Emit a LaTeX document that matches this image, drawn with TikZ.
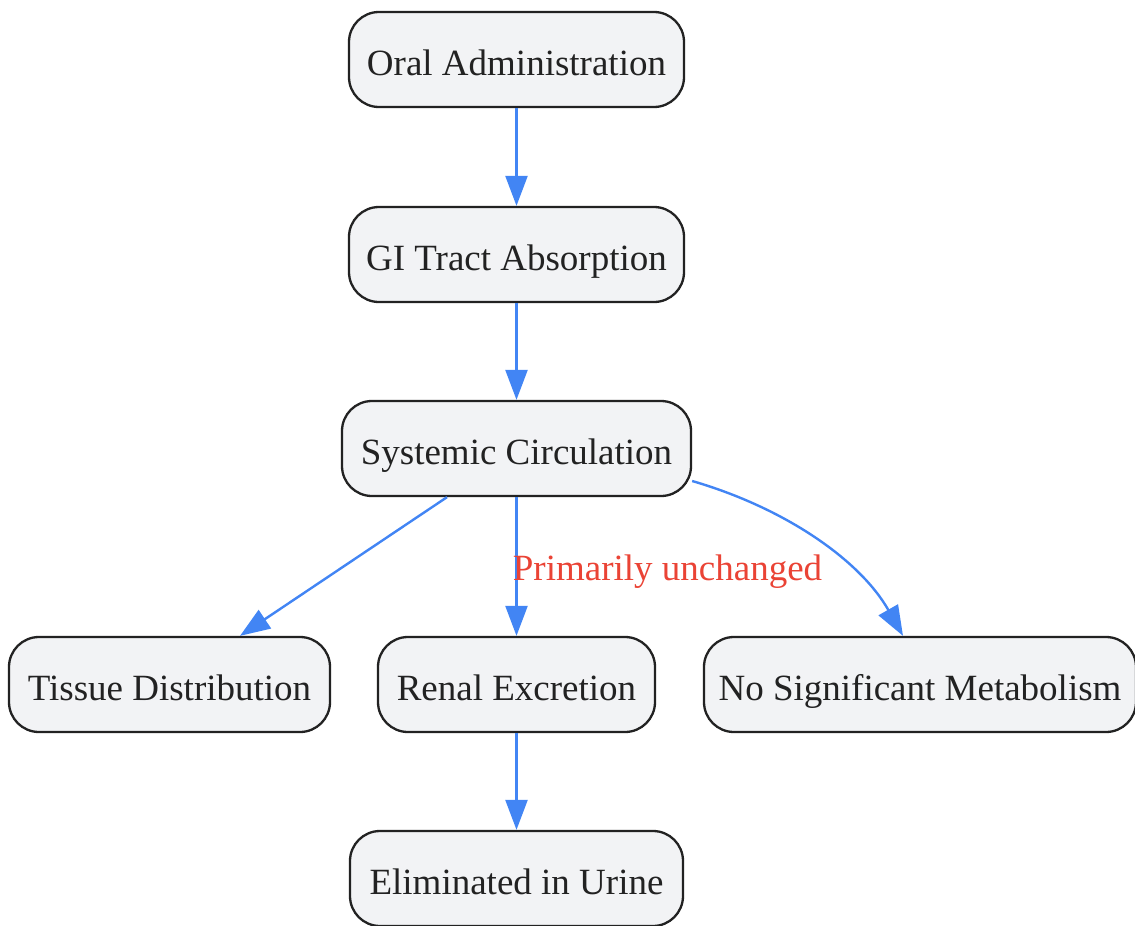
\documentclass[tikz,border=0pt]{standalone}
\usepackage{fontspec}
\setmainfont{Liberation Serif}
\usetikzlibrary{arrows.meta}
\definecolor{boxfill}{HTML}{F2F3F5}
\definecolor{boxdraw}{HTML}{222222}
\definecolor{edgeblue}{HTML}{4285F4}
\definecolor{labelred}{HTML}{EA4335}
\begin{document}
\begin{tikzpicture}[x=1pt,y=1pt,
  box/.style={draw=boxdraw, fill=boxfill, line width=2.3pt, rounded corners=30pt,
    minimum height=95pt, inner sep=0pt, text=boxdraw,
    text height=31pt, text depth=0pt,
    font=\fontsize{37}{44}\selectfont},
  flow/.style={draw=edgeblue, line width=2.4pt, -{Triangle[length=30pt,width=22pt]}},
  lbl/.style={text=labelred, inner sep=0pt, font=\fontsize{37}{44}\selectfont}
]
\useasboundingbox (0,0) rectangle (1135,-926);
\node[box, minimum width=335pt] (oral) at (516.5,-59.5) {Oral Administration};
\node[box, minimum width=335pt] (gi) at (516.5,-254.5) {GI Tract Absorption};
\node[box, minimum width=349pt] (sys) at (516.5,-448.5) {Systemic Circulation};
\node[box, minimum width=321pt] (tis) at (169.5,-684.5) {Tissue Distribution};
\node[box, minimum width=277pt] (ren) at (516.5,-684.5) {Renal Excretion};
\node[box, minimum width=432pt] (nosig) at (920,-684.5) {No Significant Metabolism};
\node[box, minimum width=333pt] (elim) at (516.5,-878.5) {Eliminated in Urine};

\draw[flow] (oral) -- (gi);
\draw[flow] (gi) -- (sys);
\draw[flow] ([xshift=-69.5pt]sys.south) -- ([xshift=70.5pt]tis.north);
\draw[flow] (sys) -- (ren);
\node[lbl] (lab) at (667.5,-572) {Primarily unchanged};
\draw[flow] ([yshift=-32.5pt]sys.east) .. controls (785,-508) and (860,-560) .. ([xshift=-17pt]nosig.north);
\draw[flow] (ren) -- (elim);
\end{tikzpicture}
\end{document}
